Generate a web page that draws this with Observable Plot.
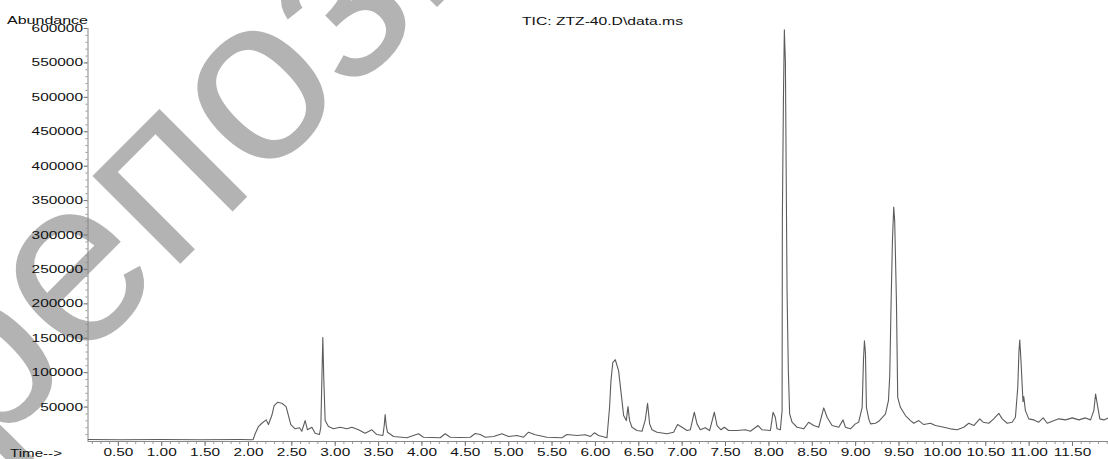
<!DOCTYPE html>
<html><head><meta charset="utf-8">
<script src="https://cdn.jsdelivr.net/npm/d3@7"></script>
<script src="https://cdn.jsdelivr.net/npm/@observablehq/plot@0.6"></script>
<style>
html,body{margin:0;padding:0;background:#fff;overflow:hidden;}
</style></head><body>
<div id="chart"></div>
<script>
const title = "TIC: ZTZ-40.D\\data.ms";
const yLabel = "Abundance";
const xLabel = "Time-->";
const watermark = "репозиторий";
const xDomain = [0.15, 11.915];
const yDomain = [0, 600000];
const xTicks = [0.5,1,1.5,2,2.5,3,3.5,4,4.5,5,5.5,6,6.5,7,7.5,8,8.5,9,9.5,10,10.5,11,11.5];
const yTicks = [50000,100000,150000,200000,250000,300000,350000,400000,450000,500000,550000,600000];

const times = [0.150,0.520,0.981,1.442,1.904,2.042,2.054,2.077,2.115,2.154,2.204,2.230,2.269,2.296,2.334,2.385,2.434,2.461,2.488,2.538,2.588,2.615,2.653,2.680,2.731,2.769,2.818,2.834,2.846,2.857,2.869,2.884,2.922,2.980,3.057,3.134,3.192,3.268,3.345,3.423,3.480,3.550,3.565,3.576,3.588,3.603,3.672,3.826,3.960,4.018,4.210,4.268,4.326,4.441,4.557,4.615,4.672,4.730,4.826,4.922,4.998,5.095,5.171,5.229,5.306,5.441,5.614,5.672,5.787,5.883,5.941,5.987,6.036,6.133,6.163,6.179,6.200,6.229,6.267,6.306,6.325,6.356,6.375,6.394,6.421,6.479,6.537,6.575,6.601,6.625,6.652,6.710,6.825,6.901,6.947,6.998,7.056,7.094,7.140,7.171,7.209,7.267,7.316,7.371,7.402,7.448,7.486,7.536,7.633,7.728,7.786,7.875,7.921,8.017,8.048,8.074,8.094,8.132,8.152,8.155,8.167,8.178,8.190,8.209,8.224,8.239,8.267,8.325,8.401,8.458,8.516,8.574,8.632,8.671,8.728,8.805,8.855,8.882,8.940,8.997,9.035,9.075,9.090,9.101,9.113,9.124,9.151,9.171,9.228,9.266,9.306,9.344,9.378,9.393,9.409,9.424,9.439,9.450,9.459,9.470,9.485,9.516,9.574,9.632,9.670,9.727,9.785,9.862,9.920,10.016,10.094,10.170,10.246,10.304,10.362,10.431,10.470,10.535,10.592,10.650,10.689,10.747,10.804,10.842,10.869,10.883,10.892,10.906,10.920,10.929,10.938,10.957,10.996,11.054,11.111,11.162,11.209,11.266,11.342,11.420,11.497,11.573,11.650,11.708,11.746,11.766,11.792,11.815,11.861,11.915];
const abundances = [2900,2500,3000,2600,2800,2600,2900,11200,21700,26500,31400,24600,37700,52200,56900,55500,50700,37700,24600,18400,19900,14900,30400,17000,20700,12000,10100,20700,88400,151100,88400,30400,21700,18400,20700,18400,20700,17000,12000,17000,10100,8700,23200,39100,23200,13500,7200,5400,11200,6200,5400,11200,6200,5800,6200,11600,10100,6200,7200,11200,7200,8700,6200,13500,9700,6200,5400,10100,8700,9700,7200,12600,8700,5400,49700,88400,114500,118800,102900,59400,37700,30400,50700,30400,20700,15900,14900,31400,55500,25600,17000,13500,11200,13500,24600,20700,15900,17000,42500,25600,17000,19900,15900,42500,23200,17000,20700,15900,15900,17000,14900,23200,17000,15900,42500,35200,18400,17000,44900,323100,494100,598000,552100,218800,102900,40100,28000,20700,18400,28000,23200,20700,48800,35200,23200,20700,31400,20700,18400,25600,28000,49700,117400,146300,129000,49700,32900,25600,26500,29400,34800,40100,59400,95600,204300,291200,340500,320200,269500,204300,64200,49700,37700,30400,26500,30400,24600,26500,23200,20700,18400,17000,20700,26500,23200,32900,28000,26500,32900,41000,32900,26500,28000,35200,78700,131900,147400,117400,81100,58000,65200,44900,32900,31400,28000,34300,26500,29400,32900,31400,34300,31400,34300,31400,44900,69100,49700,32900,31400,34300];

const data = times.map((t, i) => ({t, a: abundances[i]}));
const xMinor = d3.range(2, 120).map(i => i / 10);
const yMinor = d3.range(1, 61).map(i => i * 10000);

const font = "'Liberation Sans', Arial, sans-serif";
const chart = Plot.plot({
  width: 1108, height: 459,
  marginLeft: 87.5, marginRight: 0, marginTop: 28, marginBottom: 18,
  x: {domain: xDomain},
  y: {domain: yDomain},
  style: {fontFamily: font, fontSize: "11px", color: "#111", background: "#fff", overflow: "visible"},
  marks: [
    Plot.axisY(yMinor, {tickSize: 2, text: null, stroke: "#999", label: null}),
    Plot.axisY(yTicks, {tickSize: 4, tickPadding: 1, stroke: "#777", label: null, tickFormat: d3.format("d")}),
    Plot.axisX(xMinor, {tickSize: 3, text: null, stroke: "#999", label: null}),
    Plot.axisX(xTicks, {tickSize: 5, tickPadding: 2, stroke: "#777", label: null, tickFormat: d3.format(".2f")}),
    Plot.ruleX([xDomain[0]], {stroke: "#888"}),
    Plot.ruleY([0], {stroke: "#888"}),
    Plot.line(data, {x: "t", y: "a", stroke: "#5c5c5c", strokeWidth: 1.1, clip: true})
  ]
});
document.getElementById("chart").appendChild(chart);
const svg = d3.select(chart);

svg.insert("text", ":first-child")
  .attr("class", "wm")
  .attr("transform", "translate(-16,460) rotate(-45)")
  .attr("font-family", font)
  .attr("font-size", 235)
  .attr("text-anchor", "start")
  .attr("fill", "#b3b3b3")
  .text(watermark);

svg.selectAll("g[aria-label$='tick label'] text").each(function() {
  const L = this.getComputedTextLength();
  this.setAttribute("textLength", L * 1.4);
  this.setAttribute("lengthAdjust", "spacingAndGlyphs");
});

function addText(s, x, y, len) {
  svg.append("text").attr("x", x).attr("y", y)
    .attr("font-family", font).attr("font-size", 11).attr("fill", "#111")
    .attr("text-anchor", "start")
    .attr("textLength", len).attr("lengthAdjust", "spacingAndGlyphs")
    .text(s);
}
addText(yLabel, 7, 24, 81);
addText(title, 522, 24.5, 161);
addText(xLabel, 10, 457, 52);
</script>
</body></html>
